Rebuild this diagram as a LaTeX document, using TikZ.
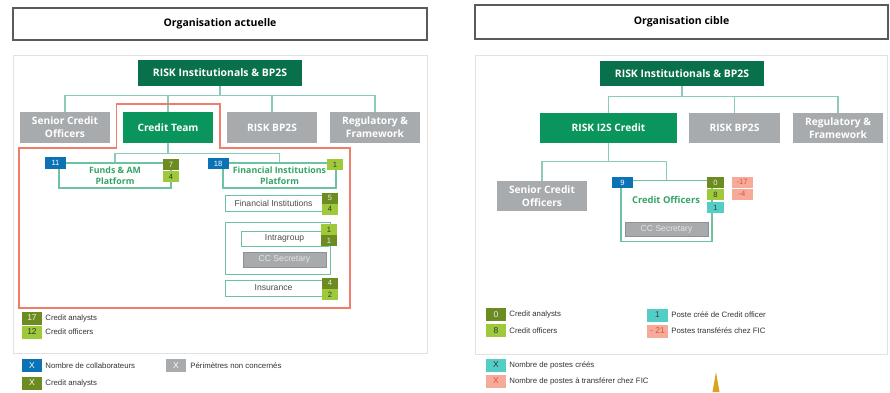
\documentclass[tikz,border=0pt]{standalone}
\usepackage{fontspec}
\setmainfont{Open Sans}
\newfontfamily\arialf{Liberation Sans}
\definecolor{dkgreen}{HTML}{08704A}
\definecolor{mdgreen}{HTML}{0A955C}
\definecolor{boxgray}{HTML}{A7ABAE}
\definecolor{linkc}{HTML}{8CCBBB}
\definecolor{outgreen}{HTML}{6CC39F}
\definecolor{txtgreen}{HTML}{33A466}
\definecolor{nblue}{HTML}{0B72B5}
\definecolor{nolive}{HTML}{6C8C22}
\definecolor{nlight}{HTML}{9DC93A}
\definecolor{ncyan}{HTML}{52CEC6}
\definecolor{nsalmon}{HTML}{F6AB9A}
\definecolor{salmtxt}{HTML}{D9533F}
\definecolor{redline}{HTML}{F07C6B}
\definecolor{panelline}{HTML}{E2E2E2}
\definecolor{titleline}{HTML}{5A5A5A}
\definecolor{spikegold}{HTML}{D9A521}
\begin{document}
\begin{tikzpicture}[x=1pt,y=-1pt,
    titlebox/.style={draw=titleline,line width=1.2pt,font=\bfseries\fontsize{10.5}{12}\selectfont,inner sep=0pt},
    panelbox/.style={draw=panelline,line width=1pt,inner sep=0pt},
    headbox/.style={fill=dkgreen,text=white,font=\bfseries\fontsize{10.4}{12}\selectfont,inner sep=0pt,minimum width=164pt,minimum height=26pt},
    unitbox/.style={text=white,font=\bfseries\fontsize{10.2}{13}\selectfont,align=center,inner sep=0pt,minimum height=31pt},
    activebox/.style={unitbox,fill=mdgreen},
    offbox/.style={unitbox,fill=boxgray},
    teambox/.style={draw=outgreen,line width=1.1pt,text=txtgreen,font=\bfseries\fontsize{8.8}{10.5}\selectfont,align=center,inner sep=0pt,minimum height=25pt},
    subbox/.style={draw=outgreen,line width=0.9pt,fill=white,font=\arialf\fontsize{8.6}{10}\selectfont,text=black!70,inner sep=0pt,minimum height=16pt},
    secbox/.style={fill=boxgray,draw=boxgray!85!black,text=white!90!black,font=\arialf\fontsize{8.6}{10}\selectfont,inner sep=0pt,minimum height=15pt,minimum width=83pt},
    numbox/.style={inner sep=0pt,minimum width=16pt,minimum height=11pt,font=\arialf\fontsize{7.6}{8}\selectfont},
    blu/.style={numbox,fill=nblue,text=white,minimum width=21pt},
    oli/.style={numbox,fill=nolive,text=white!85!nolive},
    lgr/.style={numbox,fill=nlight,text=black!80},
    cya/.style={numbox,fill=ncyan,text=black!75},
    sal/.style={numbox,fill=nsalmon,text=salmtxt,minimum width=21pt},
    gry/.style={numbox,fill=boxgray,text=white},
    keybox/.style={minimum width=20pt,minimum height=13pt,font=\arialf\fontsize{8.5}{9}\selectfont},
    keytxt/.style={anchor=west,inner sep=0pt,font=\arialf\fontsize{7.8}{9}\selectfont,text=black!80},
    linkline/.style={draw=linkc,line width=1.2pt}]
  \useasboundingbox (0,0) rectangle (890,392);

  % organisation actuelle
  \path (220,24) node[titlebox,minimum width=414pt,minimum height=32pt] (T1) {Organisation actuelle};
  \path (220,204) node[panelbox,minimum width=414pt,minimum height=298pt] (P1) {};
  \path (220,73) node[headbox] (H1) {RISK Institutionals \& BP2S};
  \path (65,127.5) node[offbox,minimum width=90pt] (SCO1) {Senior Credit\\Officers};
  \path (168,127.5) node[activebox,minimum width=90pt] (CT) {Credit Team};
  \path (272,127.5) node[offbox,minimum width=90pt] (BP1) {RISK BP2S};
  \path (375,127.5) node[offbox,minimum width=90pt] (REG1) {Regulatory \&\\Framework};
  \path (115,175.5) node[teambox,minimum width=112pt] (FAM) {Funds \& AM\\Platform};
  \path (279.5,175.5) node[teambox,minimum width=113pt] (FIP) {Financial Institutions\\Platform};
  \path (273.5,203) node[subbox,minimum width=97pt] (FI) {Financial Institutions};
  \path (277.5,248) node[draw=outgreen,line width=1pt,minimum width=105pt,minimum height=52pt] (GRP) {};
  \path (284.5,238.5) node[subbox,minimum width=87pt,minimum height=15pt] (INTRA) {Intragroup};
  \path (284.5,259.5) node[secbox] (SEC1) {CC Secretary};
  \path (273.5,288) node[subbox,minimum width=97pt] (INS) {Insurance};

  \path (55.5,163) node[blu,minimum height=12pt] (N11) {11};
  \path (171,164.5) node[oli] (N7) {7};
  \path (171,176.5) node[lgr] (N4a) {4};
  \path (218,163.5) node[blu] (N18) {18};
  \path (335,164.5) node[lgr] (N1a) {1};
  \path (330,198) node[oli] (N5) {5};
  \path (330,209) node[lgr] (N4b) {4};
  \path (329,229.5) node[lgr] (N1b) {1};
  \path (329,240.5) node[oli] (N1c) {1};
  \path (330,283) node[oli] (N4c) {4};
  \path (330,294.5) node[lgr] (N2) {2};

  \draw[linkline] (H1.south) -- ++(0,9.5) -| (SCO1.north);
  \draw[linkline] (H1.south) -- ++(0,9.5) -| (CT.north);
  \draw[linkline] (H1.south) -- ++(0,9.5) -| (BP1.north);
  \draw[linkline] (H1.south) -- ++(0,9.5) -| (REG1.north);
  \draw[linkline] (CT.south) -- ++(0,10) -| (FAM.north);
  \draw[linkline] (CT.south) -- ++(0,10) -| (FIP.north);

  \draw[redline,line width=1.1pt] (116.5,104) -- (220,104) -- (220,148) -- (350,148)
    -- (350,308) -- (19,308) -- (19,148) -- (116.5,148) -- cycle;

  \path (32,318) node[oli,keybox] (K17) {17};
  \path (K17.east) node[keytxt,xshift=3pt] (K17t) {Credit analysts};
  \path (32,332) node[lgr,keybox] (K12) {12};
  \path (K12.east) node[keytxt,xshift=3pt] (K12t) {Credit officers};
  \path (32,365.5) node[blu,keybox,text=white] (KX1) {X};
  \path (KX1.east) node[keytxt,xshift=3pt] (KX1t) {Nombre de collaborateurs};
  \path (176,365.5) node[gry,keybox] (KX2) {X};
  \path (KX2.east) node[keytxt,xshift=4pt] (KX2t) {Périmètres non concernés};
  \path (32,383) node[oli,keybox,text=white] (KX3) {X};
  \path (KX3.east) node[keytxt,xshift=3pt] (KX3t) {Credit analysts};

  % organisation cible
  \path (681.5,22) node[titlebox,minimum width=413pt,minimum height=34pt] (T2) {Organisation cible};
  \path (681,204.5) node[panelbox,minimum width=412pt,minimum height=299pt] (P2) {};
  \path (682,73.5) node[headbox,minimum height=25pt] (H2) {RISK Institutionals \& BP2S};
  \path (608.5,128) node[activebox,minimum width=137pt,minimum height=30pt] (I2S) {RISK I2S Credit};
  \path (734.5,128) node[offbox,minimum width=91pt,minimum height=30pt] (BP2) {RISK BP2S};
  \path (838,128) node[offbox,minimum width=90pt,minimum height=30pt] (REG2) {Regulatory \&\\Framework};
  \path (542,196) node[offbox,minimum width=90pt,minimum height=30pt] (SCO2) {Senior Credit\\Officers};
  \path (666.5,211) node[draw=outgreen,line width=1.3pt,minimum width=91pt,minimum height=61pt] (CO) {};
  \path (666,200) node[text=txtgreen,font=\bfseries\fontsize{9.4}{11}\selectfont] (COt) {Credit Officers};
  \path (666.5,229) node[secbox,minimum height=14pt] (SEC2) {CC Secretary};

  \path (622.5,182.5) node[blu] (N9) {9};
  \path (715.5,182.5) node[oli,minimum width=17pt] (N0) {0};
  \path (715.5,194.5) node[lgr,minimum width=17pt] (N8) {8};
  \path (715.5,207.5) node[cya,minimum width=17pt] (Nc1) {1};
  \path (742,182) node[sal] (Nm17) {-17};
  \path (742,194) node[sal] (Nm4) {-4};

  \draw[linkline] (H2.south) -- ++(0,10) -| (I2S.north);
  \draw[linkline] (H2.south) -- ++(0,10) -| (BP2.north);
  \draw[linkline] (H2.south) -- ++(0,10) -| (REG2.north);
  \draw[linkline] (I2S.south) -- ++(0,18.5) -| (SCO2.north);
  \draw[linkline] (I2S.south) -- ++(0,18.5) -| (CO.north);

  \path (496,314.5) node[oli,keybox] (R0) {0};
  \path (R0.east) node[keytxt,xshift=3pt] (R0t) {Credit analysts};
  \path (496,330.5) node[lgr,keybox] (R8) {8};
  \path (R8.east) node[keytxt,xshift=3pt] (R8t) {Credit officers};
  \path (657.5,315) node[cya,keybox,minimum width=21pt] (Rc1) {1};
  \path (Rc1.east) node[keytxt,xshift=3pt] (Rc1t) {Poste créé de Credit officer};
  \path (657.5,331) node[sal,keybox,minimum width=21pt] (Rm21) {- 21};
  \path (Rm21.east) node[keytxt,xshift=3pt] (Rm21t) {Postes transférés chez FIC};
  \path (496,365) node[cya,keybox,text=black!80] (RX1) {X};
  \path (RX1.east) node[keytxt,xshift=3pt] (RX1t) {Nombre de postes créés};
  \path (496,381) node[sal,keybox,minimum width=20pt] (RX2) {X};
  \path (RX2.east) node[keytxt,xshift=3pt] (RX2t) {Nombre de postes à transférer chez FIC};

  \fill[spikegold] (716,372) -- (719.5,392) -- (712.5,392) -- cycle;
\end{tikzpicture}
\end{document}
